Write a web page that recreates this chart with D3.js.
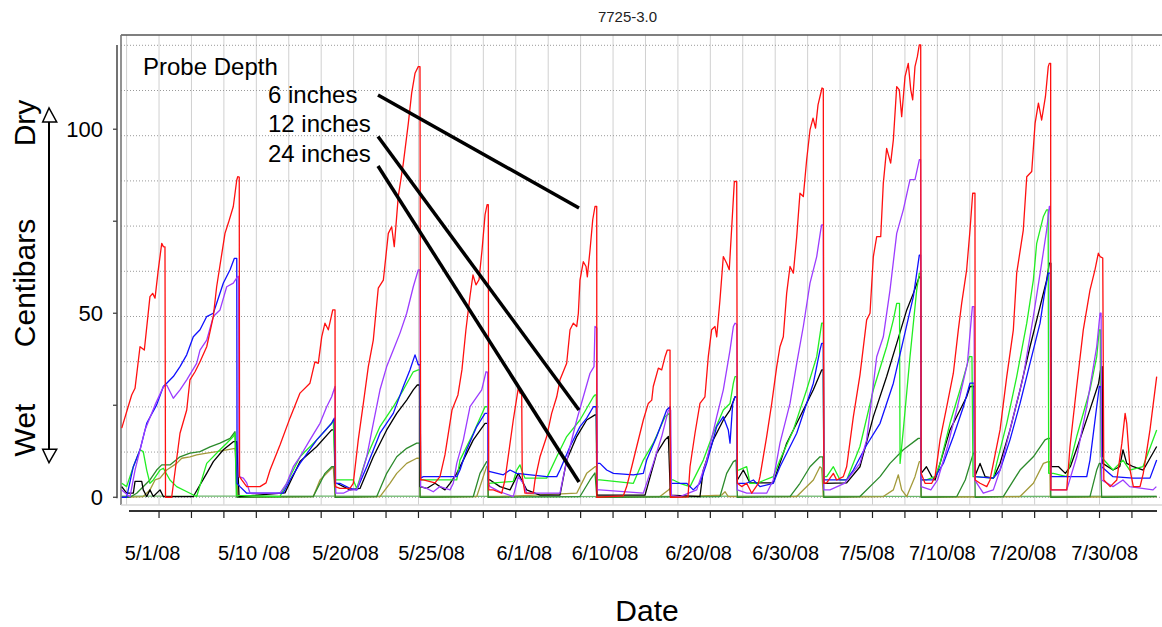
<!DOCTYPE html>
<html>
<head>
<meta charset="utf-8">
<script src="https://cdn.jsdelivr.net/npm/d3@7"></script>
<style>
  body { margin: 0; background: #fff; }
  svg { font-family: "Liberation Sans", Arial, sans-serif; }
</style>
</head>
<body>
<div class="chart"></div>
<script>
// readings per probe: [day, centibars]
const red = [[-0.45,18.8],[0.47,27.8],[0.78,29.6],[1.24,40.9],[1.64,40],[2.16,54.5],[2.41,55.4],[2.63,54.1],[2.93,61.8],[3.25,69],[3.4,68.1],[3.55,68],[3.6,0],
  [4.17,0],[4.94,17.4],[5.56,23.7],[5.86,31.9],[6.33,34.1],[6.79,36.8],[7.41,40.9],[8.02,49.1],[8.33,57.2],[9.1,71.7],[9.41,74.5],[9.87,79],[10.19,86.2],[10.28,87.1],[10.42,87],[10.45,5.6],
  [10.65,4.7],[11.11,2.9],[12.34,2.9],[12.9,3.9],[13.27,7.4],[14.19,14.2],[15.11,21.5],[16.04,28.3],[16.96,31],[17.42,36.8],[17.73,36.4],[18.05,43.6],[18.35,47.3],[18.66,45.5],[19.07,50.9],[19.28,50.9],[19.3,2.9],
  [19.73,2.4],[20.66,2.4],[20.97,3.8],[21.43,15.6],[21.9,25.5],[22.36,35.5],[22.82,42.7],[23.28,56.8],[23.75,59],[24.21,71.7],[24.52,73.5],[24.76,68.1],[25.13,81.7],[25.6,90.8],[26.06,101.6],[26.37,109.8],[26.68,115.2],[26.98,117],[27.14,117],[27.2,4.7],
  [27.45,4.7],[28.53,3.9],[28.99,5.6],[29.45,11.5],[30.1,23.7],[30.65,27.8],[31.02,34.6],[31.39,45.5],[31.77,54.7],[32.04,60.4],[32.32,57.7],[32.6,59.1],[32.88,67.2],[33.16,76.8],[33.35,79.5],[33.46,79.5],[33.5,2],
  [33.92,2],[34.7,1.1],[35,4.7],[35.77,21],[36.23,29.6],[36.39,28.3],[36.55,28],[36.6,5.6],[36.85,1.1],[37.62,1.1],[37.78,4.7],[38.24,11],[38.86,16.5],[39.32,22.8],[39.79,27.3],[40.09,31.9],[40.71,36.4],[41.02,45.5],[41.32,47.3],[41.64,46.4],[41.79,50],[41.94,59],[42.25,64],[42.5,62.7],[42.62,59.9],[42.87,67.2],[43.12,75.4],[43.33,79],[43.49,79],[43.5,0],
  [45.95,0.4],[46.26,2.9],[46.73,8.3],[47.19,13.8],[47.8,21],[48.26,25.5],[48.58,26.4],[48.72,30.1],[49.19,35.1],[49.5,34.6],[49.81,38.2],[50.02,40],[50.27,40],[50.3,0],
  [51.93,0.1],[52.12,8.3],[52.58,17.4],[53.04,25.5],[53.5,27.3],[53.81,38.2],[54.12,45.5],[54.43,46.4],[54.59,43.6],[54.89,53.6],[55.2,65.4],[55.51,63.6],[55.75,61.8],[55.98,73.5],[56.22,85.8],[56.44,85.8],[56.5,3.8],
  [56.9,2.9],[57.36,3.8],[57.83,1.1],[58.44,3.8],[58.59,5.6],[59.21,16.5],[59.68,25.5],[60.14,35.5],[60.44,40.9],[60.75,43.6],[61.06,55.4],[61.37,62.7],[61.68,60.9],[61.99,70.8],[62.29,82.6],[62.6,81.7],[62.91,91.7],[63.22,99.8],[63.5,103],[63.73,100.3],[63.96,106.6],[64.33,111.2],[64.45,111],[64.5,3.8],
  [64.76,3.9],[65.38,6.5],[65.69,4.7],[66.3,5.6],[66.61,8.3],[67.23,21.9],[67.84,33.2],[68.46,48.2],[68.77,50],[69.08,65.4],[69.39,70.8],[69.76,70.8],[70,85.3],[70.31,94.8],[70.68,90.8],[70.93,97.1],[71.24,111.6],[71.48,110.7],[71.7,103.4],[72.01,114.3],[72.31,117.9],[72.54,110.7],[72.72,108],[72.93,117],[73.15,119.7],[73.33,122.9],[73.46,122.9],[73.5,6.5],
  [73.86,3.8],[74.48,3.8],[74.79,5.6],[75.25,15.6],[75.87,24.6],[76.48,33.7],[76.94,45.5],[77.25,52.7],[77.71,61.8],[78.02,72.6],[78.27,82.6],[78.48,82.6],[78.5,4.7],
  [78.95,3.8],[79.57,2.9],[79.87,4.7],[80.18,9.2],[80.8,18.3],[81.42,32.8],[82.03,45.5],[82.34,60.9],[82.95,72.6],[83.27,87.1],[83.73,88.5],[84.04,101.6],[84.35,107.1],[84.65,102.5],[85,108.9],[85.26,117],[85.36,117.9],[85.48,117.9],[85.5,2],
  [85.9,2],[86.97,2],[87.27,13.8],[87.89,30.1],[88.5,45.5],[89.12,56.3],[89.58,61.8],[89.89,66.3],[90.05,65.4],[90.3,65],[90.4,4.7],
  [90.99,2.9],[91.6,4.7],[92.07,14.7],[92.37,22.8],[92.52,20.1],[92.83,7.4],[93.13,2.9],[93.75,2.9],[94.05,6.5],[94.67,18.3],[95.29,32.8]];

const purple = [[-0.45,2],[0.31,0.1],[0.78,7.4],[1.7,18.3],[2.63,25.1],[3.4,30],[3.71,30.5],[4.32,26.9],[4.94,29.2],[5.56,31.9],[6.48,36.4],[6.79,40],[7.41,42.7],[8.02,49.1],[8.64,50.9],[9.26,57.2],[9.87,58.2],[10.28,60],[10.36,60],[10.4,5.6],
  [10.8,5.2],[11.11,3.9],[11.42,1.1],[14.19,1.1],[14.81,3.8],[15.42,8.3],[16.04,11],[16.96,15.6],[17.89,20.1],[18.51,24.6],[18.97,27.3],[19.28,30.1],[19.35,1.1],
  [20.05,1.1],[20.66,2],[21.29,2],[21.59,4.7],[22.21,11],[22.82,20.1],[23.44,29.2],[24.06,35.5],[24.67,40],[25.29,44.6],[25.91,50],[26.52,57.2],[26.98,61.8],[27.14,61.8],[27.2,2.9],
  [27.76,2.4],[28.37,1.5],[28.99,2.9],[29.92,2],[30.22,3.8],[30.54,9.2],[31.15,15.6],[31.77,24.6],[32.85,29.2],[33.25,34.1],[33.4,34],[33.45,3.8],
  [33.62,2.9],[34.54,1.5],[35.77,0.2],[36.23,5.6],[36.7,3.8],[37.01,1.1],[40.09,1.1],[40.4,5.6],[41.02,13.8],[41.64,21],[42.25,27.3],[42.87,33.7],[43.24,35.5],[43.33,46.4],[43.5,46],[43.55,2],
  [43.79,2],[47.8,1.1],[48.72,9.2],[49.5,16.5],[50.12,23.7],[50.33,23.7],[50.4,0.5],
  [51.19,0.2],[52.74,2],[53.66,10.1],[54.59,21.9],[55.2,29.2],[55.82,40],[56.13,46.4],[56.28,47.3],[56.45,47],[56.5,2],
  [57.36,1.1],[59.21,1.1],[59.82,4.7],[60.44,14.7],[61.37,25.5],[61.99,36.4],[62.6,46.4],[63.22,58.2],[63.84,65.4],[64.21,72.6],[64.3,74],[64.45,74],[64.5,2],
  [65.07,2],[66.4,3.8],[67.84,9.2],[68.46,15.6],[69.39,38.2],[70,43.6],[70.62,56.3],[71.24,71.7],[71.85,78.1],[72.47,86.3],[72.93,86.3],[73.33,91.7],[73.45,91.7],[73.5,2.9],
  [74.4,2],[75.02,4.7],[75.94,13.8],[76.86,24.6],[77.78,36.4],[78.24,51.8],[78.4,51.8],[78.45,4.7],
  [79.25,1.1],[80.18,2],[80.8,7.4],[81.72,18.3],[82.95,32.8],[83.88,49.1],[84.65,63.6],[85.11,72.6],[85.36,79],[85.45,79],[85.5,2],
  [86.97,2],[87.89,11],[88.82,24.6],[89.74,40.9],[90.05,50],[90.15,50],[90.2,4.7],
  [91.25,2.9],[92.17,4.7],[92.79,2.9],[94.95,2],[95.26,2.9]];

const blue = [[-0.45,0],[0,0],[0.62,8.3],[1.24,12.9],[1.86,20.1],[2.78,25.1],[3.4,30.1],[3.71,31],[4.32,32.8],[4.94,35.5],[5.56,38.7],[6.17,43.6],[6.79,45.5],[7.41,49.1],[8.02,50],[8.33,52.7],[8.95,58.2],[9.57,61.8],[9.96,64.9],[10.19,64.9],[10.22,3.8],
  [10.49,2.9],[11.11,1.1],[14.47,1.1],[15.11,4.7],[16.04,9.2],[17.59,15.6],[18.97,20.1],[19.22,21.5],[19.3,3.8],
  [19.73,3.8],[20.66,2.4],[21.29,2],[22.21,8.3],[23.44,17.4],[24.67,22.8],[25.6,30.1],[26.21,34.6],[26.68,38.7],[26.98,36],[27.14,36],[27.2,5.2],
  [27.45,5.6],[30.54,5.6],[30.84,7.4],[31.46,12.9],[32.39,19.2],[33.16,22.8],[33.4,22.8],[33.45,7],
  [33.62,7],[34.85,6.1],[35.47,7.4],[36.09,6.5],[38.86,5.6],[39.79,5.6],[40.09,7.4],[41.02,13.8],[41.94,19.2],[42.56,21.5],[43.18,24.6],[43.45,24.6],[43.5,9.2],
  [43.79,9.2],[44.41,7.4],[45.03,6.5],[46.88,6.1],[47.8,6.5],[48.11,10.1],[49.04,16.5],[49.96,23.7],[50.27,24.6],[50.35,3.8],
  [51.81,3.8],[52.42,2],[53.04,3.8],[53.66,9.2],[54.59,19.2],[55.2,21.9],[55.66,18.3],[55.82,14.7],[56.07,25.5],[56.28,27.3],[56.45,27.3],[56.5,3.8],
  [57.36,3.8],[57.98,4.7],[58.59,2.9],[59.82,3.8],[60.44,8.3],[61.99,17.4],[63.53,31],[64.14,40],[64.3,41.8],[64.45,41.8],[64.5,4.7],
  [64.76,4.7],[66.61,4.7],[67.23,7.4],[68.46,14.2],[69.7,20.1],[70.93,31],[71.85,42.7],[72.78,54.5],[73.33,65.8],[73.45,65.8],[73.5,4.7],
  [74.63,4.7],[75.55,9.2],[76.48,16.5],[77.41,24.6],[78.02,31],[78.4,31],[78.45,5.6],
  [80.18,5.2],[80.8,7.4],[81.72,15.6],[82.65,25.5],[83.57,36.4],[84.5,47.3],[84.96,56.3],[85.26,60.9],[85.45,60.9],[85.5,5.6],
  [88.82,5.6],[89.12,10.1],[89.74,24.6],[89.98,30.1],[90.15,30],[90.2,8.3],
  [91.25,5.6],[93.1,5.2],[94.67,5.2],[95.29,10.1]];

const green = [[-0.45,3.8],[0,2.9],[0.62,8.3],[1.24,12.9],[1.54,12.4],[1.86,7.4],[2.16,3.8],[2.47,4.7],[3.09,7.4],[3.4,7.9],[4.01,4.7],[4.63,2.9],[5.86,1.1],[6.48,0.2],[7.41,9.2],[8.64,12.9],[9.26,14.7],[9.87,16.5],[10.03,17.4],[10.15,0.5],
  [14.19,0.2],[14.81,3.8],[16.04,11],[17.59,15.6],[18.97,20.1],[19.12,21],[19.3,4.7],
  [19.44,4.7],[20.97,4.7],[21.29,2.4],[22.21,11],[23.44,19.2],[24.67,24.6],[25.6,29.2],[26.52,34.1],[26.98,34.6],[27.14,34.6],[27.2,4.7],
  [27.45,4.7],[30.54,4.7],[30.84,10.1],[32.07,17.4],[33.16,24.6],[33.4,24.6],[33.45,3.8],
  [35.77,4.3],[36.09,7.4],[36.39,8.8],[36.55,7.4],[36.85,5.2],[38.86,5.2],[39.79,11],[40.71,16.5],[41.94,21],[43.18,27.3],[43.33,27.8],[43.45,27.8],[43.5,4.7],
  [43.79,4.7],[46.88,3.8],[47.8,10.1],[48.72,14.7],[49.81,21.9],[50.21,22.8],[50.35,4.7],
  [50.57,4.7],[51.19,3.8],[52.12,2.9],[53.35,10.1],[54.27,17.4],[55.2,23.7],[55.82,25.5],[56.13,31],[56.28,32.8],[56.45,32.8],[56.5,7.4],
  [56.62,7.4],[57.36,8.3],[57.67,3.8],[58.28,3.8],[59.82,5.6],[60.44,10.1],[61.68,18.3],[62.91,29.2],[63.84,38.2],[64.3,47.3],[64.45,47.3],[64.5,5.6],
  [64.76,5.6],[65.38,8.3],[66,4.7],[66.61,4.7],[67.84,13.8],[69.08,29.2],[70.31,40.9],[70.93,48.2],[71.24,52.7],[71.5,52.7],[71.55,9.2],[71.85,18.3],[72.47,38.2],[73.09,56.3],[73.33,60.9],[73.45,60.9],[73.5,4.7],
  [73.99,4.7],[74.79,5.6],[75.25,9.2],[76.17,20.1],[77.1,29.2],[77.71,35.5],[77.95,38.2],[78.2,38.2],[78.3,5.6],
  [78.48,5.6],[80.18,5.2],[80.49,9.2],[81.42,20.1],[82.34,32.8],[83.27,47.3],[83.88,59],[84.19,69],[84.81,76.3],[85.11,78.1],[85.25,78.1],[85.3,6.5],
  [85.73,6.5],[86.97,5.6],[87.89,16.5],[89.12,29.2],[89.74,38.2],[89.98,45.5],[90.1,45.5],[90.15,11],
  [91.25,7.4],[92.17,10.1],[92.79,7.4],[94.02,8.3],[95.29,18.3]];

const black = [[-0.45,2.9],[0,1.1],[0.62,1.1],[0.78,4.3],[1.4,4.3],[1.54,2],[1.86,0.2],[2.16,2],[2.47,0.2],[3.09,2],[3.4,0.2],[6.17,0.2],[7.41,6.5],[8.02,9.7],[8.95,12.9],[9.87,15.1],[10.19,15.1],[10.4,0.2],
  [14.65,1.2],[16.04,9.7],[17.59,13.8],[18.97,18.3],[19.2,18.3],[19.3,3.8],
  [19.44,3.8],[20.66,2],[21.59,2.4],[22.82,11],[24.06,18.3],[24.99,22.8],[25.91,26.4],[26.52,29.2],[26.89,30.5],[27.1,30.5],[27.15,2.9],
  [27.76,2.4],[28.53,3.8],[29.45,2],[29.92,3.8],[30.54,6.5],[32.07,15.6],[33.16,20.1],[33.4,20.1],[33.45,4.7],
  [33.62,4.7],[34.54,2.9],[35.47,2],[36.23,6.5],[37.01,2],[38.24,0.6],[40.09,0.6],[40.71,10.1],[41.64,16.5],[42.56,21],[43.33,22.4],[43.45,22.4],[43.5,0.6],
  [47.96,0.6],[49.04,12],[49.81,15.6],[50.12,16.5],[50.3,0.6],
  [53.04,0.2],[53.35,7.4],[54.27,15.6],[55.2,21],[55.82,23.7],[56.28,27.3],[56.45,27.3],[56.5,4.7],
  [57.05,7.4],[57.67,3.9],[59.82,3.9],[61.06,14.7],[62.29,21.9],[63.53,29.2],[64.3,34.6],[64.45,34.6],[64.5,3.8],
  [66.61,3.9],[67.84,8.3],[69.08,21.9],[70.31,32.8],[71.24,41.8],[72.17,50.9],[72.78,55.4],[73.33,59.9],[73.45,59.9],[73.5,6.5],
  [73.99,8.3],[74.48,5.6],[74.79,4.7],[75.25,9.2],[76.17,18.3],[77.1,23.7],[77.71,27.3],[78.02,30.1],[78.4,30.1],[78.45,5.6],
  [78.95,9.2],[79.42,5.6],[80.18,5.2],[80.8,9.2],[81.72,18.3],[82.65,29.2],[83.57,40.9],[84.5,51.8],[85.11,59],[85.36,63.6],[85.5,63.6],[85.55,8.3],
  [86.22,8.3],[86.84,6.5],[87.3,8.3],[88.07,14.7],[89,22.8],[89.92,31],[90.15,35.5],[90.25,35.5],[90.3,9.2],
  [91.25,7.4],[91.87,8.3],[92.17,12.9],[92.52,9.2],[93.13,8.3],[94.05,7.4],[95.29,13.8]];

const darkGreen = [[-0.45,0],[0.3,0],[0.93,1.1],[2.16,4.7],[2.78,7.4],[3.25,8.8],[4.01,8.8],[4.94,11],[5.86,12],[6.79,12.4],[7.72,13.7],[8.64,14.7],[9.57,16],[10.03,17.8],[10.2,0],
  [17.27,0.2],[18.35,6.5],[18.97,8.3],[19.2,8.3],[19.3,0],
  [23.14,0.2],[24.06,6.5],[24.99,11],[25.91,13.3],[26.84,14.7],[27.1,14.7],[27.15,0],
  [32.07,0.2],[32.69,6.5],[33.31,9.7],[33.4,9.7],[33.45,0],
  [41.94,0.2],[42.87,4.7],[43.33,6.6],[43.5,0],
  [54.89,0.2],[55.51,6.5],[56.13,9.7],[56.38,10.1],[56.5,0],
  [61.37,0.2],[62.29,3.8],[63.22,8.3],[64.14,11],[64.4,11],[64.5,0],
  [67.84,0.2],[69.7,5.6],[70.62,9.2],[71.85,12.9],[73.24,16],[73.45,16],[73.5,0],
  [76.8,0.2],[77.58,4.7],[78.33,12],[78.45,12],[78.5,0],
  [81.1,0.2],[82.65,7.4],[83.88,11],[84.96,15.6],[85.26,16],[85.45,16],[85.5,0],
  [89.12,0.2],[89.74,7.4],[89.98,9.2],[90.1,9.2],[90.2,0],[95.29,0.2]];

const olive = [[-0.45,0],[1.54,0.2],[2.16,2],[2.63,4.7],[3.09,5.2],[3.71,7.4],[4.63,9.2],[5.1,10.6],[5.86,11],[6.48,11.5],[7.41,12],[8.33,12.4],[9.26,12.9],[10.03,13.3],[10.3,0],
  [17.27,0.2],[17.89,4.7],[18.97,7.9],[19.12,8.3],[19.3,0],
  [23.44,0.2],[24.36,3.8],[24.99,6.5],[25.91,9.2],[26.84,10.6],[27.1,10.6],[27.15,0],
  [32.39,0.2],[33.31,8.4],[33.4,8.4],[33.45,0],
  [41.64,1.1],[42.56,6.5],[43.33,8.3],[43.45,8.3],[43.5,0],
  [49.34,0.2],[50.12,2],[50.27,2.4],[50.35,0],
  [55.05,0.6],[55.36,1.5],[55.66,0.2],
  [61.99,0.2],[63.53,4.7],[64.14,8.3],[64.3,7.9],[64.45,0],
  [70,0.2],[70.93,2],[71.39,6.1],[71.7,2],[72.17,0.2],[72.93,5.6],[73.33,9.7],[73.45,9.7],[73.5,0],
  [82.65,0.2],[83.88,3.8],[84.81,9.2],[85.26,9.7],[85.4,9.7],[85.45,0],[95.29,0.2]];

const baseGreen = [[-0.45,0.3],[20,0.3],[40,0.2],[60,0.3],[80,0.2],[95.29,0.3]];

const series = [
  {color: '#6cb86c', values: baseGreen},
  {color: '#a39a3a', values: olive},
  {color: '#2b8a2b', values: darkGreen},
  {color: '#000000', values: black},
  {color: '#22ee22', values: green},
  {color: '#1010ff', values: blue},
  {color: '#9c3cff', values: purple},
  {color: '#ff1010', values: red}
];

const yTickValues = [0, 25, 50, 75, 100];
const yTickLabels = [0, 50, 100];
const xTickDays = d3.range(3, 94, 3);
const gridDays = d3.range(0, 94, 3);
const gridStep = 12.28;
const dateLabels = ['5/1/08', '5/10 /08', '5/20/08', '5/25/08', '6/1/08', '6/10/08', '6/20/08', '6/30/08', '7/5/08', '7/10/08', '7/20/08', '7/30/08'];
const dateLabelDays = [2.41, 11.81, 20.25, 28.21, 36.8, 44.26, 52.91, 60.97, 68.49, 75.46, 82.92, 90.48];
const depthLabels = ['6 inches', '12 inches', '24 inches'];

const width = 1162, height = 627;
const plotLeft = 121, plotRight = 1162, plotTop = 35, plotBottom = 505;

const svg = d3.select('.chart').append('svg')
  .attr('width', width)
  .attr('height', height)
  .style('display', 'block');

svg.append('rect').attr('width', width).attr('height', height).attr('fill', '#fff');

const x = d3.scaleLinear().domain([-0.5, 95.8]).range([121.2, 1162.2]);
const y = d3.scaleLinear().domain([-2.1, 125.6]).range([505, 35]);

// title
svg.append('text')
  .attr('x', 627.5).attr('y', 22)
  .attr('text-anchor', 'middle')
  .attr('font-size', 15)
  .attr('fill', '#222')
  .text('7725-3.0');

// grid
const grid = svg.append('g');
grid.selectAll('.vg').data(gridDays).join('line')
  .attr('x1', d => x(d)).attr('x2', d => x(d))
  .attr('y1', plotTop).attr('y2', plotBottom)
  .style('stroke', '#d0d0d0').style('stroke-width', 1);

grid.selectAll('.hg').data(d3.range(0, 11)).join('line')
  .attr('x1', plotLeft).attr('x2', plotRight)
  .attr('y1', d => y(d * gridStep)).attr('y2', d => y(d * gridStep))
  .style('stroke', '#9a9a9a').style('stroke-width', 1)
  .style('stroke-dasharray', '1,2');

// frame
svg.append('line').attr('x1', plotLeft).attr('x2', plotRight).attr('y1', plotTop).attr('y2', plotTop)
  .style('stroke', '#555').style('stroke-width', 1.6);
svg.append('line').attr('x1', plotLeft).attr('x2', plotLeft).attr('y1', plotTop).attr('y2', plotBottom)
  .style('stroke', '#777').style('stroke-width', 1.6);
svg.append('line').attr('x1', plotLeft).attr('x2', plotRight).attr('y1', plotBottom).attr('y2', plotBottom)
  .style('stroke', '#d8d8d8').style('stroke-width', 1.5);

// series
svg.append('clipPath').attr('id', 'clip')
  .append('rect').attr('x', plotLeft).attr('y', plotTop).attr('width', plotRight - plotLeft).attr('height', plotBottom - plotTop);

const line = d3.line().x(d => x(d[0])).y(d => y(d[1]));
svg.append('g').attr('clip-path', 'url(#clip)')
  .selectAll('path').data(series).join('path')
  .attr('d', d => line(d.values))
  .style('fill', 'none')
  .style('stroke', d => d.color)
  .style('stroke-width', 1.3)
  .style('stroke-linejoin', 'round');

// y axis
const yAxis = svg.append('g');
yAxis.append('line').attr('x1', 117).attr('x2', 117).attr('y1', 45).attr('y2', y(0) + 1)
  .style('stroke', '#444').style('stroke-width', 1.5);
yAxis.selectAll('.yt').data(yTickValues).join('line')
  .attr('x1', 113).attr('x2', 117)
  .attr('y1', d => y(d)).attr('y2', d => y(d))
  .style('stroke', '#444').style('stroke-width', 1.3);
yAxis.selectAll('text').data(yTickLabels).join('text')
  .attr('x', 103).attr('y', d => y(d))
  .attr('dy', '0.36em')
  .attr('text-anchor', 'end')
  .attr('font-size', 22)
  .text(d => d);

// x axis
const xAxis = svg.append('g');
xAxis.append('line').attr('x1', 129).attr('x2', 1157).attr('y1', 511).attr('y2', 511)
  .style('stroke', '#333').style('stroke-width', 2);
xAxis.selectAll('.xt').data(xTickDays).join('line')
  .attr('x1', d => x(d)).attr('x2', d => x(d))
  .attr('y1', 511).attr('y2', 518)
  .style('stroke', '#222').style('stroke-width', 1.2);
xAxis.selectAll('text').data(dateLabels).join('text')
  .attr('x', (d, i) => x(dateLabelDays[i])).attr('y', 560)
  .attr('text-anchor', 'middle')
  .attr('font-size', 20)
  .text(d => d);

svg.append('text')
  .attr('x', 647).attr('y', 621)
  .attr('text-anchor', 'middle')
  .attr('font-size', 30)
  .text('Date');

// y label with arrow
[['Dry', 123], ['Centibars', 283], ['Wet', 430]].forEach(([t, cy]) => {
  svg.append('text')
    .attr('transform', `translate(35,${cy}) rotate(-90)`)
    .attr('text-anchor', 'middle')
    .attr('font-size', 30)
    .text(t);
});
svg.append('line').attr('x1', 49).attr('x2', 49).attr('y1', 121).attr('y2', 450)
  .style('stroke', '#000').style('stroke-width', 2);
svg.append('path').attr('d', 'M49,108 L42.7,122 L56.7,122 Z')
  .style('fill', '#fff').style('stroke', '#000').style('stroke-width', 1.5);
svg.append('path').attr('d', 'M49,462.7 L42.7,449.3 L56.7,449.3 Z')
  .style('fill', '#fff').style('stroke', '#000').style('stroke-width', 1.5);

// legend annotation
svg.append('text').attr('x', 143).attr('y', 75).attr('font-size', 24).text('Probe Depth');
svg.selectAll('.depth').data(depthLabels).join('text')
  .attr('x', 268).attr('y', (d, i) => 103 + i * 29.3)
  .attr('font-size', 24)
  .text(d => d);

const pointers = [[95, 208], [136.5, 410], [166, 482]];
svg.selectAll('.ptr').data(pointers).join('line')
  .attr('x1', 378).attr('y1', d => d[0])
  .attr('x2', 579).attr('y2', d => d[1])
  .style('stroke', '#000').style('stroke-width', 3.5);
</script>
</body>
</html>
